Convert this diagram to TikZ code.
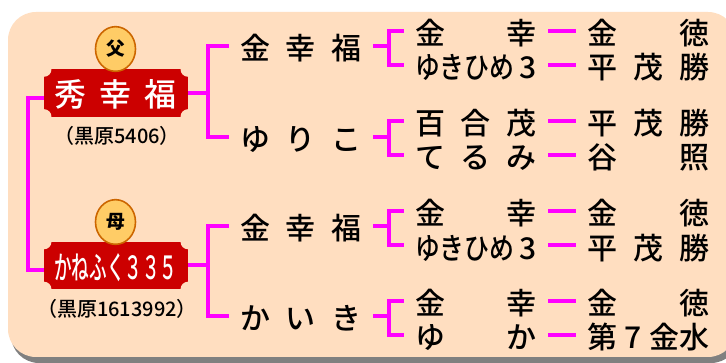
\documentclass[tikz,border=0pt]{standalone}
\usepackage{fontspec}
\setmainfont{Noto Sans CJK JP}
\newfontfamily\plainface{Noto Sans CJK JP Medium}
\usepackage{tikz}
\usetikzlibrary{calc,shapes.geometric}
\definecolor{panel}{HTML}{FFDEC0}
\definecolor{plate}{HTML}{CC0000}
\definecolor{badge}{HTML}{FFCC66}
\definecolor{badgeline}{HTML}{CC6600}
\definecolor{kinline}{HTML}{FF00FF}
\newcommand{\spaced}[1]{\makebox[91.5pt][s]{#1}}
\newcommand{\narrow}[1]{\scalebox{.83}[1]{#1}}
\newcommand{\plainsize}{\plainface\fontsize{22.5}{24}\selectfont}
% fork from a parent to its two children
\newcommand{\fork}[3]{
\coordinate (m#1) at ($(#1.east)!.5!(#2.west)$);
\draw[kin] (#1.east) -- (m#1 |- #1.east);
\draw[kin] (#2.west) -| (m#1) |- (#3.west);
}
\newcommand{\notches}[1]{
\fill[panel] (#1.north west) circle (5.6pt);
\fill[panel] (#1.north east) circle (5.6pt);
\fill[panel] (#1.south west) circle (5.6pt);
\fill[panel] (#1.south east) circle (5.6pt);
}
\tikzset{
  kin/.style={draw=kinline, line width=3pt},
  horsename/.style={font=\plainsize, inner xsep=8.6pt, inner ysep=0pt, outer sep=0pt, text height=20.4pt, text depth=0pt},
  horse/.style={fill=plate, text=white, font=\plainface\fontsize{24}{26}\selectfont, minimum width=108pt, minimum height=35.5pt, inner sep=0pt, outer sep=0pt, text height=20.6pt, text depth=0pt},
  regno/.style={font=\plainface\fontsize{15}{16}\selectfont, inner sep=0pt},
  badgeround/.style={ellipse, fill=badge, draw=badgeline, line width=1.2pt, minimum width=30pt, minimum height=33.5pt, inner sep=0pt, font=\fontsize{14}{15}\bfseries\selectfont},
}
\begin{document}
\begin{tikzpicture}[x=.75pt, y=-.75pt]
\clip (0,0) rectangle (726,363);
\fill[white] (0,0) rectangle (726,363);
% panel and its shadow
\fill[gray, rounded corners=21pt] (11,18) rectangle (739,363);
\fill[panel, rounded corners=21pt] (8,12) rectangle (736,357);

\node[horse] (sire) at (116,93) {\spaced{秀\hfill 幸\hfill 福}};
\node[horse] (dam) at (116,265.5) {\scalebox{.55}[1]{かねふく３３５}};
\notches{sire}
\notches{dam}
\node[badgeround] (sirebadge) at (115.5,49) {父};
\node[badgeround] (dambadge) at (115.5,222) {母};
\node[regno] (sireno) at (117,135.5) {（黒原5406）};
\node[regno] (damno) at (117,308.5) {（黒原1613992）};

\node[horsename] (ss) at (301,46) {\spaced{金\hfill 幸\hfill 福}};
\node[horsename] (sd) at (301,137) {\spaced{ゆ\hfill り\hfill こ}};
\node[horsename] (ds) at (301,226) {\spaced{金\hfill 幸\hfill 福}};
\node[horsename] (dd) at (301,316) {\spaced{か\hfill い\hfill き}};

\node[horsename] (sss) at (476,31) {\spaced{金\hfill 幸}};
\node[horsename] (ssd) at (476,65) {\spaced{\narrow{ゆきひめ}\hfill 3}};
\node[horsename] (sds) at (476,121) {\spaced{百\hfill 合\hfill 茂}};
\node[horsename] (sdd) at (476,155) {\spaced{て\hfill る\hfill み}};
\node[horsename] (dss) at (476,211) {\spaced{金\hfill 幸}};
\node[horsename] (dsd) at (476,245.5) {\spaced{\narrow{ゆきひめ}\hfill 3}};
\node[horsename] (dds) at (476,301) {\spaced{金\hfill 幸}};
\node[horsename] (ddd) at (476,335) {\spaced{ゆ\hfill か}};

\node[horsename] (ssss) at (648.5,31) {\spaced{金\hfill 徳}};
\node[horsename] (ssds) at (648.5,65) {\spaced{平\hfill 茂\hfill 勝}};
\node[horsename] (sdss) at (648.5,121) {\spaced{平\hfill 茂\hfill 勝}};
\node[horsename] (sdds) at (648.5,155) {\spaced{谷\hfill 照}};
\node[horsename] (dsss) at (648.5,211) {\spaced{金\hfill 徳}};
\node[horsename] (dsds) at (648.5,245.5) {\spaced{平\hfill 茂\hfill 勝}};
\node[horsename] (ddss) at (648.5,301) {\spaced{金\hfill 徳}};
\node[horsename] (ddds) at (648.5,335) {\spaced{第\hfill 7\hfill 金水}};

\coordinate (trunk) at (28,180);
\draw[kin] ([yshift=-3.5pt]sire.west) -| (trunk) |- ([yshift=-3.5pt]dam.west);
\fork{sire}{ss}{sd}
\fork{dam}{ds}{dd}
\fork{ss}{sss}{ssd}
\fork{sd}{sds}{sdd}
\fork{ds}{dss}{dsd}
\fork{dd}{dds}{ddd}
\draw[kin] (sss.east) -- (ssss.west);
\draw[kin] (ssd.east) -- (ssds.west);
\draw[kin] (sds.east) -- (sdss.west);
\draw[kin] (sdd.east) -- (sdds.west);
\draw[kin] (dss.east) -- (dsss.west);
\draw[kin] (dsd.east) -- (dsds.west);
\draw[kin] (dds.east) -- (ddss.west);
\draw[kin] (ddd.east) -- (ddds.west);
\end{tikzpicture}
\end{document}
